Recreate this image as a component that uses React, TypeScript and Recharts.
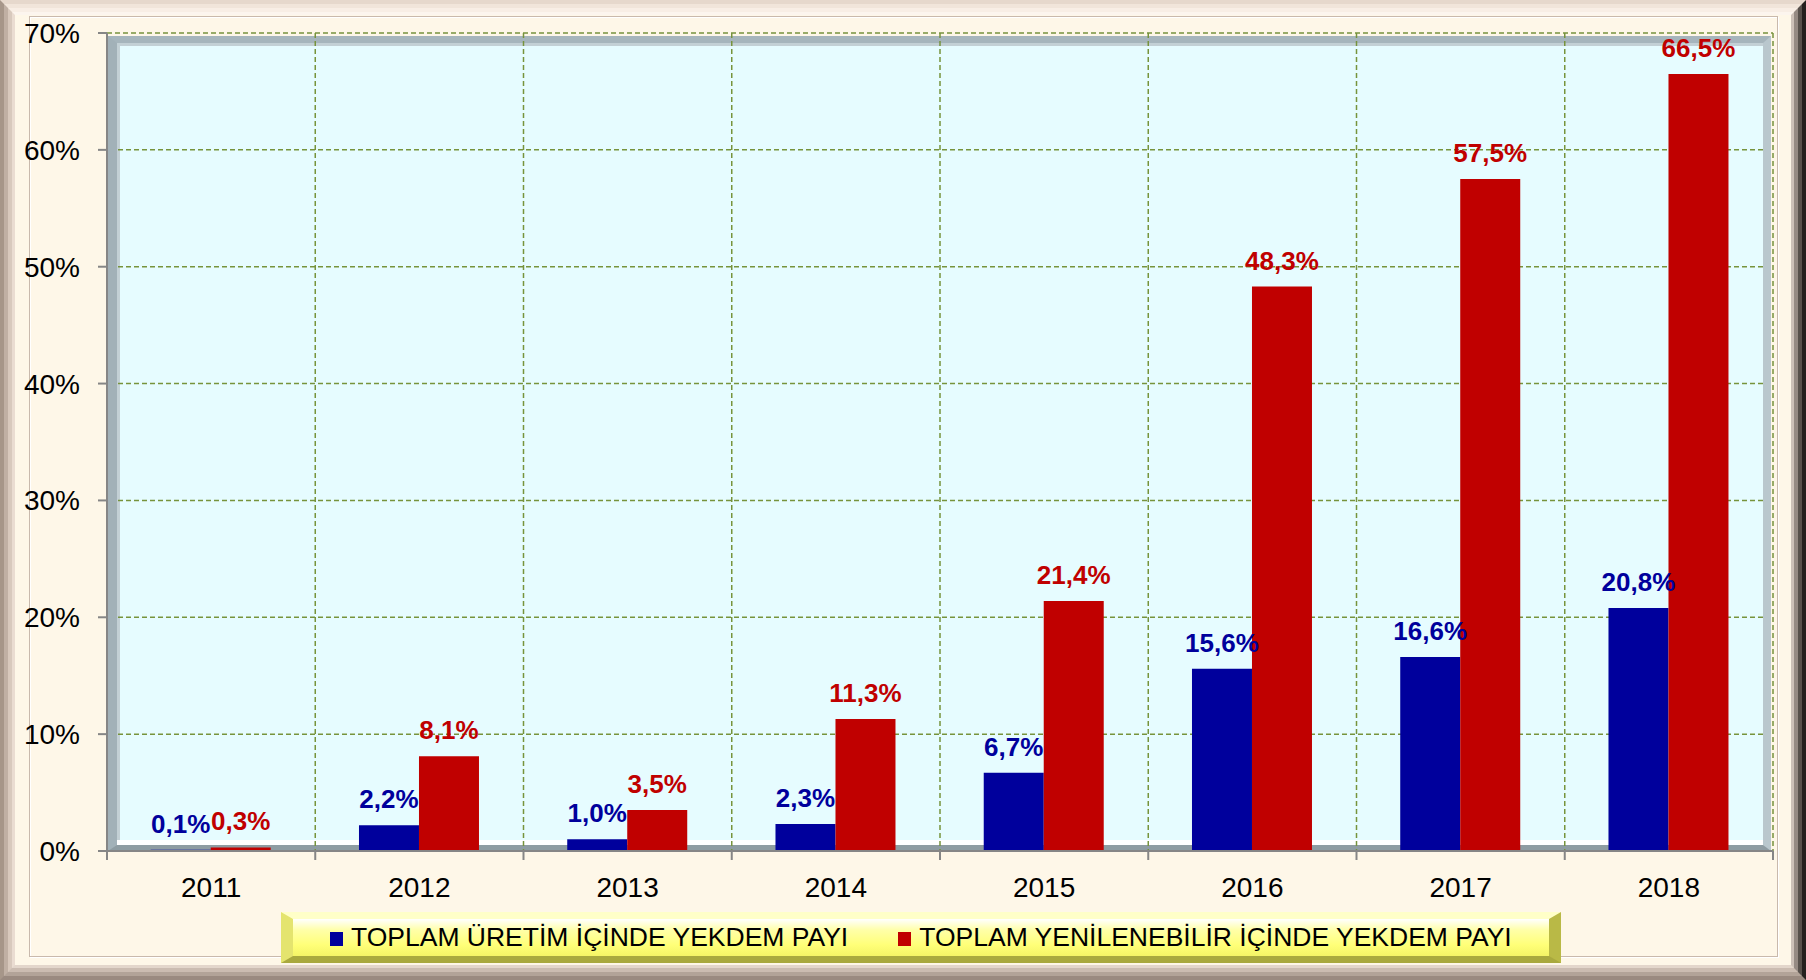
import React from 'react';
import { BarChart, Bar, XAxis, YAxis, CartesianGrid, LabelList, Legend } from 'recharts';

const YEARS = ['2011', '2012', '2013', '2014', '2015', '2016', '2017', '2018'];
const URETIM = [0.1, 2.2, 1.0, 2.3, 6.7, 15.6, 16.6, 20.8];
const YENILENEBILIR = [0.3, 8.1, 3.5, 11.3, 21.4, 48.3, 57.5, 66.5];
const Y_TICKS = [0, 10, 20, 30, 40, 50, 60, 70];
const NAME_URETIM = 'TOPLAM ÜRETİM İÇİNDE YEKDEM PAYI';
const NAME_YEN = 'TOPLAM YENİLENEBİLİR İÇİNDE YEKDEM PAYI';
const SERIES_ORDER = [NAME_URETIM, NAME_YEN];

const data = YEARS.map((y, i) => ({ year: y, uretim: URETIM[i], yen: YENILENEBILIR[i] }));

const W = 1806;
const H = 980;
const ML = 0;
const MR = 33;
const MT = 33;
const YW = 107;
const XH = 129;
const PLOT_W = W - ML - MR - YW;
const BAND = PLOT_W / YEARS.length;
const FONT = '"Liberation Sans", Arial, Helvetica, sans-serif';
const BLUE = '#00009C';
const RED = '#C00000';
const GRID = '#77933C';
const AXIS = '#868686';

const fmt = (v: any) => `${Number(v).toFixed(1).replace('.', ',')}%`;

const XTick = (props: any) => {
  const { x, y, payload, index } = props;
  const half = BAND / 2;
  const axisY = y - 26;
  return (
    <g>
      <line x1={x - half} x2={x - half} y1={axisY} y2={axisY + 9} stroke={AXIS} strokeWidth={2} />
      {index === YEARS.length - 1 && (
        <line x1={x + half} x2={x + half} y1={axisY} y2={axisY + 9} stroke={AXIS} strokeWidth={2} />
      )}
      <text x={x} y={y} dy="0.71em" textAnchor="middle" fontSize={28} fill="#000" fontFamily={FONT}>
        {payload.value}
      </text>
    </g>
  );
};

const LegendBox = (props: any) => {
  const items = [...(props.payload || [])].sort(
    (a: any, b: any) => SERIES_ORDER.indexOf(a.value) - SERIES_ORDER.indexOf(b.value)
  );
  return (
    <div
      style={{
        position: 'relative',
        boxSizing: 'border-box',
        width: 1280,
        height: 51,
        borderTop: '7px solid #FFFFC8',
        borderLeft: '12px solid #E4E46E',
        borderRight: '12px solid #B9B946',
        borderBottom: '7px solid #A9A93E',
        background: 'linear-gradient(#FFFFFF 0%, #FFFFA8 30%, #FFFF78 70%, #F4F466 100%)',
        display: 'flex',
        alignItems: 'center',
        fontFamily: FONT,
        fontSize: 26.5,
        color: '#000',
        whiteSpace: 'nowrap',
      }}
    >
      {items.map((it: any, i: number) => (
        <div
          key={i}
          style={{
            display: 'flex',
            alignItems: 'center',
            marginLeft: i === 0 ? 37 : 50,
          }}
        >
          <span
            style={{
              display: 'inline-block',
              width: 13,
              height: 14,
              background: it.color,
              marginRight: 8,
              marginTop: 3,
            }}
          />
          <span>{it.value}</span>
        </div>
      ))}
    </div>
  );
};

const frameLayer = (
  inset: number,
  bw: number,
  top: string,
  left: string,
  right: string,
  bottom: string
) => (
  <div
    style={{
      position: 'absolute',
      left: inset,
      top: inset,
      width: W - 2 * inset,
      height: H - 2 * inset,
      boxSizing: 'border-box',
      borderTop: `${bw}px solid ${top}`,
      borderLeft: `${bw}px solid ${left}`,
      borderRight: `${bw}px solid ${right}`,
      borderBottom: `${bw}px solid ${bottom}`,
    }}
  />
);

export default function App() {
  return (
    <div
      style={{
        position: 'absolute',
        left: 0,
        top: 0,
        width: W,
        height: H,
        overflow: 'hidden',
        background: '#FEF7E8',
        fontFamily: FONT,
      }}
    >
      {frameLayer(0, 4, '#E6D8CC', '#A69689', '#24201E', '#9A8A80')}
      {frameLayer(4, 4, '#F1E5DA', '#C0B0A4', '#57504B', '#B2A398')}
      {frameLayer(8, 4, '#F8EEE5', '#D8C9BD', '#958A83', '#CBBCB1')}
      {frameLayer(12, 3, '#FCF5EE', '#EADCD1', '#CDC1B8', '#E3D6CB')}
      <div
        style={{
          position: 'absolute',
          left: 29,
          top: 16,
          width: W - 29 - 28,
          height: H - 16 - 23,
          boxSizing: 'border-box',
          border: '1px solid #C9B9AC',
          boxShadow: '1px 1px 0 #FFFFFF, inset 1px 1px 0 #FFFFFF',
        }}
      />
      <div
        style={{
          position: 'absolute',
          left: ML + YW + 1,
          top: MT + 3,
          width: PLOT_W - 3,
          height: H - XH - MT - 3,
          boxSizing: 'border-box',
          borderTop: '7px solid #A6B5BC',
          borderLeft: '9px solid #A2B1B8',
          borderRight: '8px solid #B9C7CD',
          borderBottom: '6px solid #8E9CA2',
          background: '#E6FCFF',
          boxShadow: 'inset 0 -5px 0 #FFFFFF, inset 3px 3px 0 #C3D0D5',
        }}
      />
      <div style={{ position: 'absolute', left: 0, top: 0 }}>
        <BarChart
          width={W}
          height={H}
          data={data}
          margin={{ top: MT, right: MR, left: ML, bottom: 0 }}
          barCategoryGap="21%"
          barGap={0}
        >
          <CartesianGrid
            stroke={GRID}
            strokeWidth={1.5}
            strokeDasharray="5 3"
            verticalCoordinatesGenerator={({ offset }: any) =>
              YEARS.map((_, i) => offset.left + ((i + 1) * offset.width) / YEARS.length)
            }
            horizontal={(p: any) => {
              const isTop = p.y1 <= MT + 1;
              return (
                <line
                  key={p.key}
                  x1={isTop ? p.x1 : p.x1 + 11}
                  x2={isTop ? p.x2 : p.x2 - 9}
                  y1={p.y1}
                  y2={p.y2}
                  stroke={GRID}
                  strokeWidth={1.5}
                  strokeDasharray="5 3"
                />
              );
            }}
          />
          <XAxis
            dataKey="year"
            height={XH}
            tickSize={9}
            tickMargin={17}
            tickLine={false}
            axisLine={{ stroke: AXIS, strokeWidth: 2 }}
            tick={<XTick />}
            interval={0}
          />
          <YAxis
            width={YW}
            domain={[0, 70]}
            ticks={Y_TICKS}
            tickFormatter={(v: any) => `${v}%`}
            tickSize={9}
            tickMargin={18}
            tickLine={{ stroke: AXIS, strokeWidth: 2 }}
            axisLine={{ stroke: AXIS, strokeWidth: 2 }}
            tick={{ fill: '#000', fontSize: 28, fontFamily: FONT }}
            interval={0}
          />
          <Legend
            layout="horizontal"
            verticalAlign="middle"
            align="center"
            wrapperStyle={{ left: 281, top: 912, width: 1280, height: 51 }}
            content={<LegendBox />}
          />
          <Bar dataKey="uretim" name={NAME_URETIM} fill={BLUE} isAnimationActive={false}>
            <LabelList
              dataKey="uretim"
              position="top"
              offset={17}
              formatter={fmt}
              fill={BLUE}
              fontSize={26}
              fontWeight="bold"
              fontFamily={FONT}
            />
          </Bar>
          <Bar dataKey="yen" name={NAME_YEN} fill={RED} isAnimationActive={false}>
            <LabelList
              dataKey="yen"
              position="top"
              offset={17}
              formatter={fmt}
              fill={RED}
              fontSize={26}
              fontWeight="bold"
              fontFamily={FONT}
            />
          </Bar>
        </BarChart>
      </div>
    </div>
  );
}
